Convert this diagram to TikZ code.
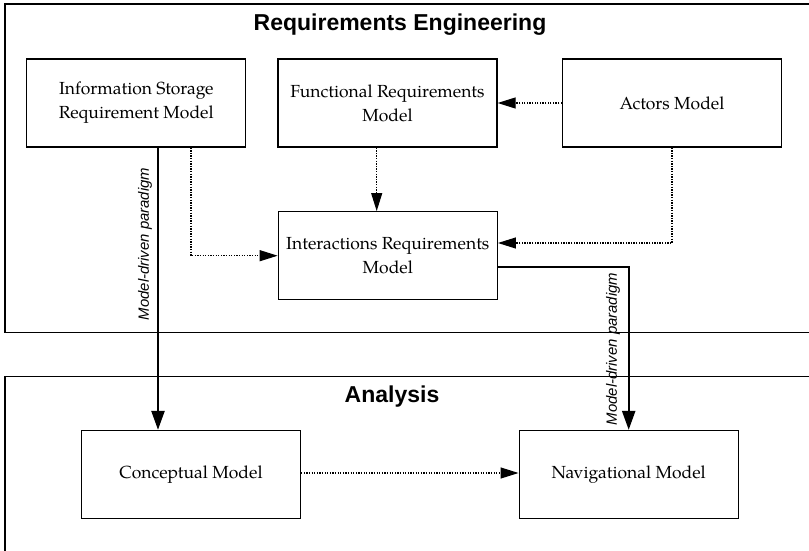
\documentclass[tikz,border=0pt]{standalone}
\usepackage{fontspec}
\setmainfont{TeX Gyre Pagella}
\newfontfamily\headsans{Liberation Sans}
\usetikzlibrary{arrows.meta}

\tikzset{
  model/.style={draw, line width=1.3pt, minimum width=219pt, minimum height=88pt,
    align=center, inner sep=0pt, font=\fontsize{17.5}{24}\selectfont},
  frame/.style={draw, line width=1.2pt},
  heading/.style={font=\headsans\bfseries\fontsize{23}{26}\selectfont},
  paradigm/.style={font=\headsans\itshape\fontsize{14.9}{18}\selectfont, rotate=90},
  flow/.style={line width=1.1pt, dash pattern=on 1.3pt off 1.3pt,
    -{Triangle[length=18pt,width=11pt]}},
  derive/.style={line width=2.4pt, -{Triangle[length=19pt,width=13pt]}}
}

\begin{document}
\begin{tikzpicture}[x=1pt,y=-1pt]
\useasboundingbox (0,0) rectangle (809,551);

% phase frames
\draw[frame] (5,4) rectangle (812,332.5);
\draw[frame] (5,376.5) rectangle (812,560);
\node[heading] (reTitle) at (400,25) {Requirements Engineering};
\node[heading] (anTitle) at (392,397) {Analysis};

% models
\node[model] (IS) at (136.3,103) {Information Storage\\Requirement Model};
\node[model] (FR) at (387.5,103) {Functional Requirements\\Model};
\node[model] (AM) at (672,103) {Actors Model};
\node[model] (IR) at (387.8,255.7) {Interactions Requirements\\Model};
\node[model] (CM) at (191,474.5) {Conceptual Model};
\node[model] (NM) at (628.7,474.5) {Navigational Model};

% routing guides
\coordinate (isDown) at (158,0);
\coordinate (frDown) at (376.7,0);
\coordinate (amIn) at (0,243);
\coordinate (irOut) at (0,267);

% dotted dependencies
\draw[flow] (AM.west) -- (FR.east);
\draw[flow] (FR.south -| frDown) -- (IR.north -| frDown);
\draw[flow] (IS.south -| CM.north) |- (IR.west);
\draw[flow] (AM.south) |- (IR.east |- amIn);
\draw[flow] (CM.east |- 0,473) -- (NM.west |- 0,473);

% model-driven derivations
\draw[derive] (IS.south -| isDown) -- (CM.north -| isDown);
\draw[derive] (IR.east |- irOut) -| (NM.north);
\node[paradigm] (mdp1) at (145,244) {Model-driven paradigm};
\node[paradigm] (mdp2) at (613,349) {Model-driven paradigm};
\end{tikzpicture}
\end{document}
